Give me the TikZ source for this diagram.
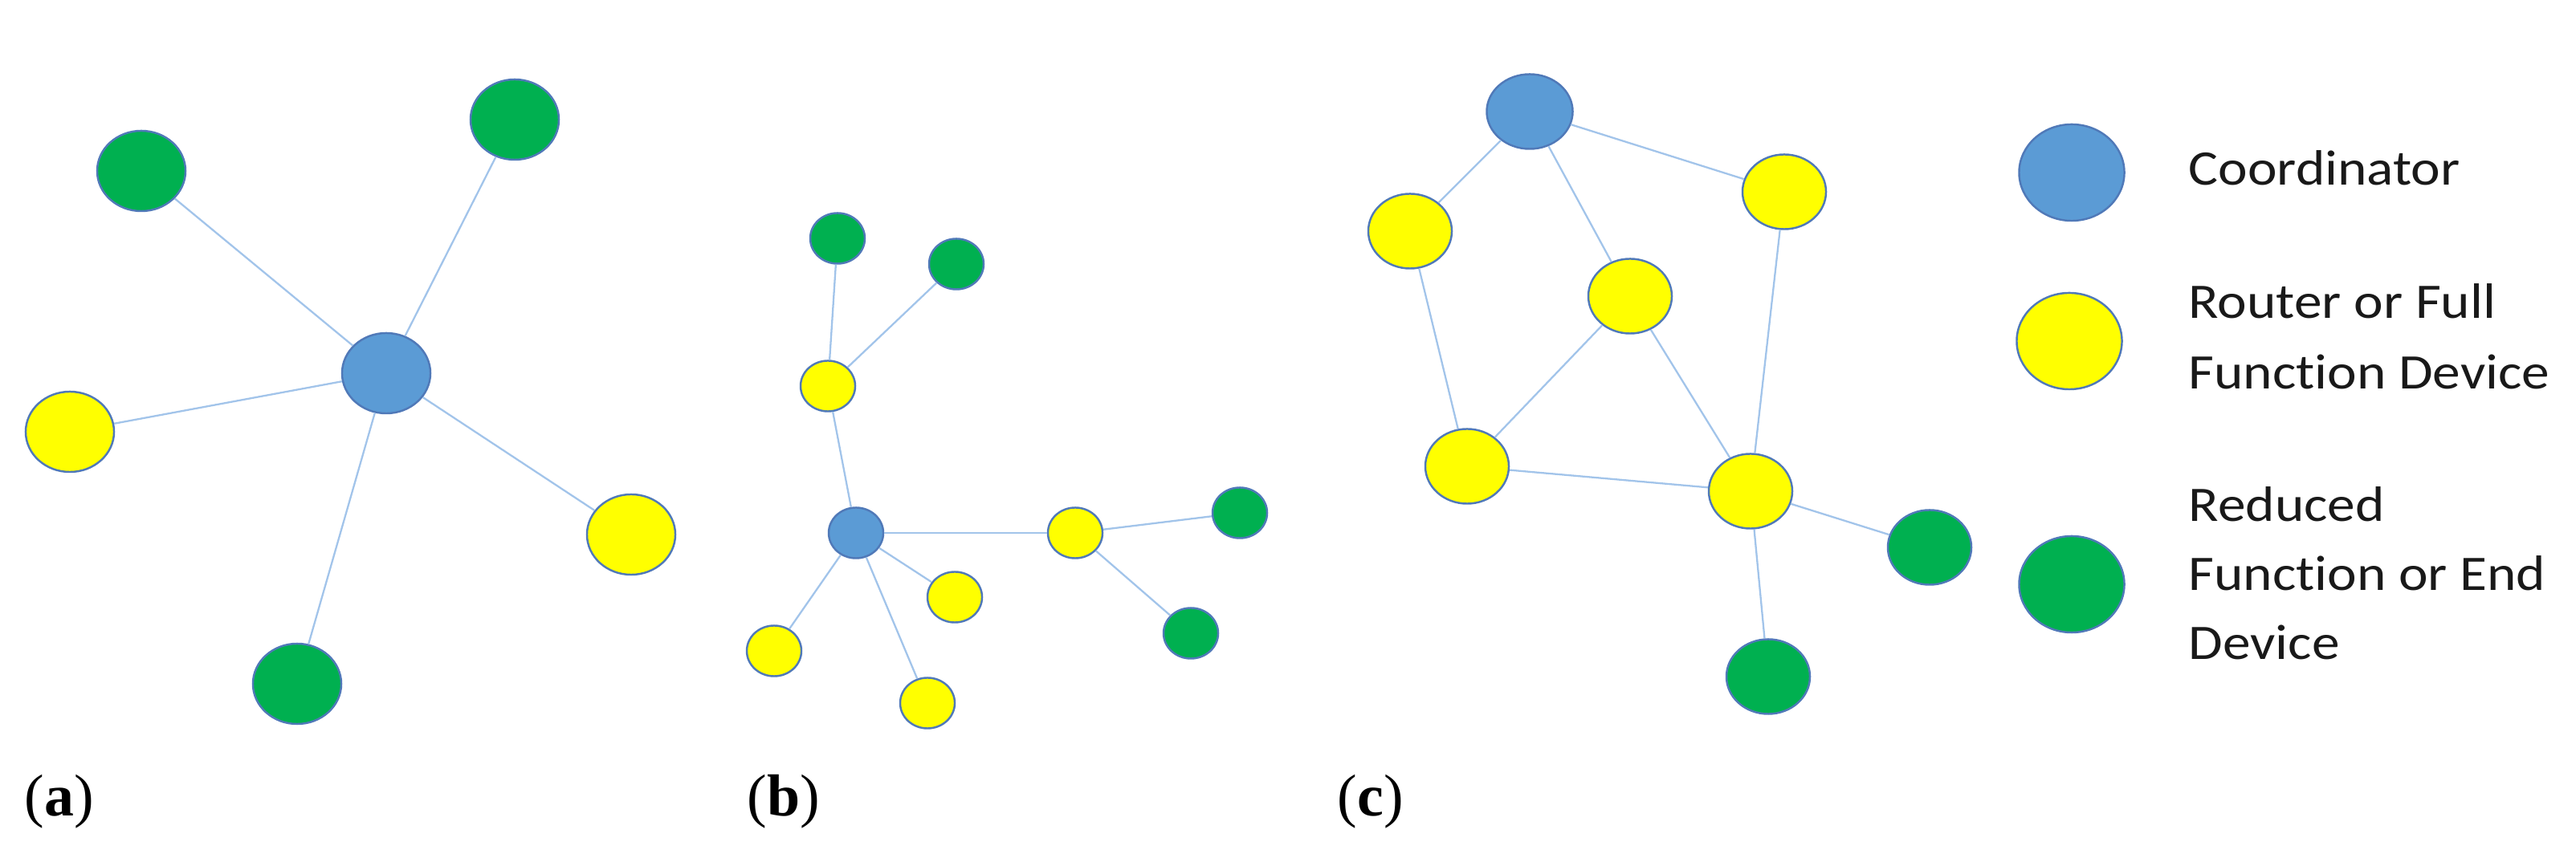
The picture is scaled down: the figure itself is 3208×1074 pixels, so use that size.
\documentclass[tikz,border=0pt]{standalone}
\usepackage{fontspec}
\usetikzlibrary{shapes.geometric}
\newfontfamily\legfont[FakeStretch=1.12,Ligatures=NoCommon]{Carlito}
\newfontfamily\labfont{Liberation Serif}
\definecolor{cblue}{HTML}{5B9BD5}
\definecolor{cyellow}{HTML}{FFFF00}
\definecolor{cgreen}{HTML}{00B050}
\definecolor{outl}{HTML}{5079B8}
\definecolor{linkc}{HTML}{A2C4EA}
\begin{document}
\begin{tikzpicture}[x=0.01cm,y=-0.01cm,
  dev/.style={ellipse, draw=outl, line width=0.7pt, inner sep=0pt},
  cnode/.style={dev, fill=cblue},
  rnode/.style={dev, fill=cyellow},
  enode/.style={dev, fill=cgreen},
  sza/.style={minimum width=1.10cm, minimum height=1.0cm},
  szb/.style={minimum width=0.68cm, minimum height=0.63cm},
  szc/.style={minimum width=1.04cm, minimum height=0.93cm},
  szl/.style={minimum width=1.31cm, minimum height=1.20cm},
  link/.style={draw=linkc, line width=0.65pt},
  legtext/.style={anchor=base west, inner sep=0pt, font=\legfont\fontsize{17.6}{24}\selectfont, text=black!90},
  lab/.style={anchor=base west, inner sep=0pt, font=\labfont\fontsize{21}{25}\selectfont}
]
\useasboundingbox (0,0) rectangle (3208,1074);

% ---------- panel (a): star ----------
\node[cnode,sza] (ac) at (481,465) {};
\node[enode,sza] (ag1) at (176,213) {};
\node[enode,sza] (ag2) at (641,149) {};
\node[rnode,sza] (ay1) at (87,538) {};
\node[rnode,sza] (ay2) at (786,666) {};
\node[enode,sza] (ag3) at (370,852) {};
\draw[link] (ac) -- (ag1);
\draw[link] (ac) -- (ag2);
\draw[link] (ac) -- (ay1);
\draw[link] (ac) -- (ay2);
\draw[link] (ac) -- (ag3);

% ---------- panel (b): tree ----------
\node[cnode,szb] (bc) at (1066,664) {};
\node[rnode,szb] (by1) at (1031,481) {};
\node[enode,szb] (bg1) at (1043,297) {};
\node[enode,szb] (bg2) at (1191,329) {};
\node[rnode,szb] (by2) at (1339,664) {};
\node[enode,szb] (bg3) at (1544,639) {};
\node[enode,szb] (bg4) at (1483,789) {};
\node[rnode,szb] (by3) at (1189,744) {};
\node[rnode,szb] (by4) at (964,811) {};
\node[rnode,szb] (by5) at (1155,876) {};
\draw[link] (bc) -- (by1);
\draw[link] (by1) -- (bg1);
\draw[link] (by1) -- (bg2);
\draw[link] (bc) -- (by2);
\draw[link] (by2) -- (bg3);
\draw[link] (by2) -- (bg4);
\draw[link] (bc) -- (by3);
\draw[link] (bc) -- (by4);
\draw[link] (bc) -- (by5);

% ---------- panel (c): mesh ----------
\node[cnode,szc,minimum width=1.07cm] (cc) at (1905,139) {};
\node[rnode,szc] (cy1) at (1756,288) {};
\node[rnode,szc] (cy2) at (2222,239) {};
\node[rnode,szc] (cy3) at (2030,369) {};
\node[rnode,szc] (cy4) at (1827,581) {};
\node[rnode,szc] (cy5) at (2180,612) {};
\node[enode,szc] (cg1) at (2403,682) {};
\node[enode,szc] (cg2) at (2202,843) {};
\draw[link] (cc) -- (cy1);
\draw[link] (cc) -- (cy2);
\draw[link] (cc) -- (cy3);
\draw[link] (cy1) -- (cy4);
\draw[link] (cy3) -- (cy4);
\draw[link] (cy3) -- (cy5);
\draw[link] (cy2) -- (cy5);
\draw[link] (cy4) -- (cy5);
\draw[link] (cy5) -- (cg1);
\draw[link] (cy5) -- (cg2);

% ---------- legend ----------
\node[cnode,szl] (lc) at (2580,215) {};
\node[rnode,szl] (lr) at (2577,425) {};
\node[enode,szl] (le) at (2580,728) {};
\node[legtext] (lt1) at (2725,231) {Coordinator};
\node[legtext] (lt2a) at (2725,397) {Router or Full};
\node[legtext] (lt2b) at (2725,485) {Function Device};
\node[legtext] (lt3a) at (2725,650) {Reduced};
\node[legtext] (lt3b) at (2725,736) {Function or End};
\node[legtext] (lt3c) at (2725,822) {Device};

% ---------- panel labels ----------
\node[lab] (la) at (30,1017) {(\textbf{a})};
\node[lab] (lb) at (930,1017) {(\textbf{b})};
\node[lab] (lcap) at (1665,1017) {(\textbf{c})};
\end{tikzpicture}
\end{document}
